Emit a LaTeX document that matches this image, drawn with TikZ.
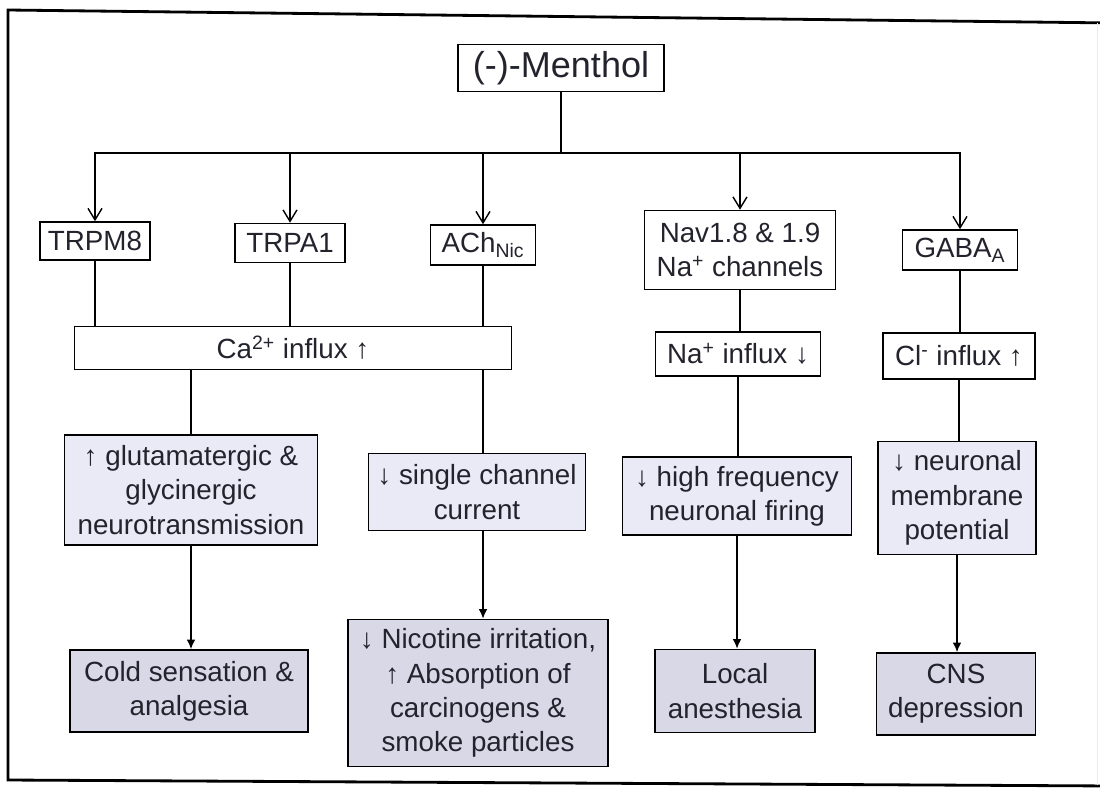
\documentclass[tikz,border=0pt]{standalone}
\usepackage{fontspec}
\setmainfont{Liberation Sans}
\usepackage{tikz}
\usetikzlibrary{arrows.meta}

\definecolor{effectfill}{RGB}{234,234,246}
\definecolor{outcomefill}{RGB}{216,216,231}
\definecolor{inktext}{RGB}{35,35,45}

\begin{document}
\begin{tikzpicture}[
    font=\fontsize{15.8}{19.5}\selectfont,
    targetbox/.style={draw, line width=0.9pt, fill=white, text=inktext, align=center, inner sep=2pt},
    effectbox/.style={targetbox, fill=effectfill},
    outcomebox/.style={targetbox, fill=outcomefill},
    link/.style={line width=0.8pt},
    drop/.style={link, -{Straight Barb[length=2.3mm,width=2.8mm]}},
    lowdrop/.style={link, -{Latex[length=1.9mm,width=1.7mm]}},
    ]
    \useasboundingbox (0,0) rectangle (22,-15.78);

    % outer frame
    \draw[line width=1.6pt] (22.3,-0.46) -- (0.16,-0.2) -- (0.16,-15.6) -- (22.3,-15.72);
    \draw[line width=0.6pt, color=black!8] (21.95,-0.45) -- (21.95,-15.7);

    % top compound node
    \node[targetbox,
    minimum width = 4.12cm,
    minimum height = 0.94cm,
    font=\fontsize{20.5}{24}\selectfont] (Menthol) at (11.22,-1.36) {(-)-Menthol};

    % receptor nodes
    \node[targetbox,
    minimum width = 2.2cm,
    minimum height = 0.76cm] (TRPM8) at (1.9,-4.82) {TRPM8};
    \node[targetbox,
    minimum width = 2.2cm,
    minimum height = 0.78cm] (TRPA1) at (5.8,-4.86) {TRPA1};
    \node[targetbox,
    minimum width = 2.1cm,
    minimum height = 0.8cm] (AChNic) at (9.66,-4.9) {ACh\textsubscript{Nic}};
    \node[targetbox,
    minimum width = 3.82cm,
    minimum height = 1.58cm] (NavCh) at (14.8,-5.0) {Nav1.8 \& 1.9\\Na\textsuperscript{+} channels};
    \node[targetbox,
    minimum width = 2.3cm,
    minimum height = 0.8cm] (GABAA) at (19.2,-5.0) {GABA\textsubscript{A}};

    % ion flux nodes
    \node[targetbox,
    minimum width = 8.74cm,
    minimum height = 0.86cm] (CaFlux) at (5.86,-6.96) {Ca\textsuperscript{2+} influx ↑};
    \node[targetbox,
    minimum width = 3.3cm,
    minimum height = 0.88cm] (NaFlux) at (14.76,-7.08) {Na\textsuperscript{+} influx ↓};
    \node[targetbox,
    minimum width = 3.04cm,
    minimum height = 0.92cm] (ClFlux) at (19.18,-7.12) {Cl\textsuperscript{-} influx ↑};

    % cellular effect nodes
    \node[effectbox,
    minimum width = 5.06cm,
    minimum height = 2.2cm] (Glut) at (3.82,-9.8) {↑ glutamatergic \&\\glycinergic\\neurotransmission};
    \node[effectbox,
    minimum width = 4.34cm,
    minimum height = 1.54cm] (Single) at (9.54,-9.84) {↓ single channel\\current};
    \node[effectbox,
    minimum width = 4.58cm,
    minimum height = 1.56cm] (Firing) at (14.74,-9.92) {↓ high frequency\\neuronal firing};
    \node[effectbox,
    minimum width = 3.16cm,
    minimum height = 2.26cm] (Membrane) at (19.14,-9.96) {↓ neuronal\\membrane\\potential};

    % outcome nodes
    \node[outcomebox,
    minimum width = 4.76cm,
    minimum height = 1.64cm] (Cold) at (3.78,-13.82) {Cold sensation \&\\analgesia};
    \node[outcomebox,
    minimum width = 5.2cm,
    minimum height = 2.94cm] (Nicotine) at (9.56,-13.86) {↓ Nicotine irritation,\\↑ Absorption of\\carcinogens \&\\smoke particles};
    \node[outcomebox,
    minimum width = 3.2cm,
    minimum height = 1.66cm] (Local) at (14.7,-13.82) {Local\\anesthesia};
    \node[outcomebox,
    minimum width = 3.18cm,
    minimum height = 1.64cm] (CNS) at (19.12,-13.88) {CNS\\depression};

    % drawing connectors
    \coordinate (Branch) at (11.22,-3.06);
    \draw[link] (Menthol.south) -- (Branch);
    \foreach \n in {TRPM8,TRPA1,AChNic,NavCh,GABAA}
    {
        \draw[drop] (Branch) -| (\n.north);
    }

    \foreach \n in {TRPM8,TRPA1,AChNic}
    {
        \draw[link] (\n.south) -- (\n.south |- CaFlux.north);
    }
    \draw[link] (NavCh.south) -- (NavCh.south |- NaFlux.north);
    \draw[link] (GABAA.south) -- (GABAA.south |- ClFlux.north);

    \draw[link] (Glut.north |- CaFlux.south) -- (Glut.north);
    \draw[link] (AChNic.south |- CaFlux.south) -- (AChNic.south |- Single.north);
    \draw[link] (NaFlux.south) -- (NaFlux.south |- Firing.north);
    \draw[link] (ClFlux.south) -- (ClFlux.south |- Membrane.north);

    \draw[lowdrop] (Glut.south) -- (Glut.south |- Cold.north);
    \draw[lowdrop] (AChNic.south |- Single.south) -- (AChNic.south |- Nicotine.north);
    \draw[lowdrop] (Firing.south) -- (Firing.south |- Local.north);
    \draw[lowdrop] (Membrane.south) -- (Membrane.south |- CNS.north);

\end{tikzpicture}
\end{document}
